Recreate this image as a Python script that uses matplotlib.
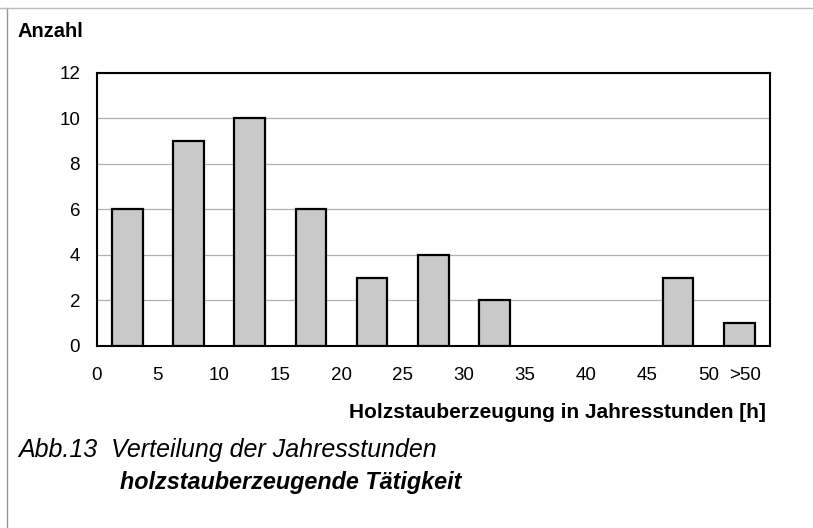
import matplotlib.pyplot as plt
from matplotlib.lines import Line2D

plt.rcParams['font.family'] = ['Liberation Sans', 'DejaVu Sans']

# bin centres (hours) and counts per 5-hour bin, last bin is ">50"
bin_centers = [2.5, 7.5, 12.5, 17.5, 22.5, 27.5, 32.5, 37.5, 42.5, 47.5, 52.5]
counts = [6, 9, 10, 6, 3, 4, 2, 0, 0, 3, 1]
tick_pos = [0, 5, 10, 15, 20, 25, 30, 35, 40, 45, 50, 53]
tick_labels = ['0', '5', '10', '15', '20', '25', '30', '35', '40', '45', '50', '>50']

fig = plt.figure(figsize=(8.13, 5.28), dpi=100)
ax = fig.add_axes([0.119, 0.345, 0.828, 0.517])

# empty bins draw nothing in the original
xs = [x for x, c in zip(bin_centers, counts) if c > 0]
hs = [c for c in counts if c > 0]
ax.bar(xs, hs, width=2.5, color='#c9c9c9', edgecolor='black',
       linewidth=1.6, zorder=3)

ax.set_xlim(0, 55)
ax.set_ylim(0, 12)
ax.set_yticks(range(0, 13, 2))
ax.set_xticks(tick_pos)
ax.set_xticklabels(tick_labels)
ax.tick_params(axis='both', length=0, labelsize=13.5)
ax.tick_params(axis='x', pad=15)
ax.tick_params(axis='y', pad=12)
ax.yaxis.grid(True, color='#b0b0b0', linewidth=0.9, zorder=0)
for s in ax.spines.values():
    s.set_linewidth(1.5)

fig.text(0.022, 0.94, 'Anzahl', fontsize=14.5, fontweight='bold', va='center')
fig.text(0.942, 0.218, 'Holzstauberzeugung in Jahresstunden [h]', fontsize=15,
         fontweight='bold', ha='right', va='center')
fig.text(0.022, 0.148, 'Abb.13  Verteilung der Jahresstunden', fontsize=18,
         style='italic', va='center')
fig.text(0.148, 0.086, 'holzstauberzeugende Tätigkeit', fontsize=16.8,
         style='italic', fontweight='bold', va='center')

# frame lines of the scanned page
fig.add_artist(Line2D([0.009, 0.009], [0.0, 0.985], color='#999999', linewidth=1.0))
fig.add_artist(Line2D([0.0, 1.0], [0.985, 0.985], color='#bbbbbb', linewidth=1.0))

fig.savefig('out.png', dpi=100)
